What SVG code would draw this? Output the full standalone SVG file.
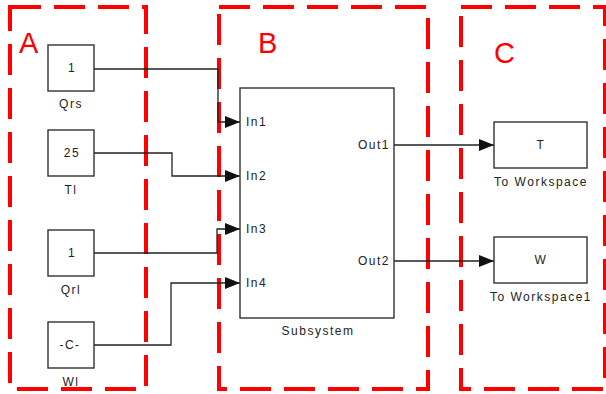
<svg xmlns="http://www.w3.org/2000/svg" width="606" height="394" viewBox="0 0 606 394">
<defs>
<style>
.region{fill:none;stroke:#ff0000;stroke-width:4;stroke-dasharray:31 13}
.rl{font-family:"Liberation Sans",Arial,sans-serif;font-size:29px;fill:#ff0000}
.blk{fill:#fff;stroke:#333;stroke-width:1.4}
.t{font-family:"Liberation Sans",Arial,sans-serif;font-size:12px;fill:#222;letter-spacing:1.5px}
.m{text-anchor:middle}
.e{text-anchor:end}
.wire{fill:none;stroke:#222;stroke-width:1.3;marker-end:url(#ah)}
</style>
<marker id="ah" markerUnits="userSpaceOnUse" markerWidth="15" markerHeight="12" refX="15" refY="6" orient="auto">
<path d="M0,0 L15,6 L0,12 Z" fill="#111"/>
</marker>
</defs>
<rect width="606" height="394" fill="#fff"/>
<g id="regions">
<rect class="region" x="10" y="7" width="136" height="382"/>
<rect class="region" x="219" y="7" width="209" height="382"/>
<rect class="region" x="461" y="7" width="144" height="382"/>
<text class="rl" x="19" y="53">A</text>
<text class="rl" x="258" y="53">B</text>
<text class="rl" x="494" y="63">C</text>
</g>
<g id="connectors">
<path class="wire" d="M94,69 H218 V122 H240"/>
<path class="wire" d="M94,153 H172 V176 H240"/>
<path class="wire" d="M94,253 H217 V229 H240"/>
<path class="wire" d="M94,345 H171 V283 H240"/>
<path class="wire" d="M394,145 H494"/>
<path class="wire" d="M394,261 H494"/>
</g>
<g id="Qrs">
<rect class="blk" x="48" y="45" width="46" height="46"/>
<text class="t m" x="72" y="72">1</text>
<text class="t m" x="71" y="108">Qrs</text>
</g>
<g id="Tl">
<rect class="blk" x="48" y="130" width="46" height="46"/>
<text class="t m" x="72" y="157">25</text>
<text class="t m" x="71" y="194">Tl</text>
</g>
<g id="Qrl">
<rect class="blk" x="48" y="230" width="46" height="46"/>
<text class="t m" x="72" y="257">1</text>
<text class="t m" x="71" y="294">Qrl</text>
</g>
<g id="Wl">
<rect class="blk" x="48" y="322" width="46" height="46"/>
<text class="t m" x="70" y="349">-C-</text>
<text class="t m" x="71" y="386">Wl</text>
</g>
<g id="Subsystem">
<rect class="blk" x="240" y="88" width="154" height="230"/>
<text class="t" x="246" y="126">In1</text>
<text class="t" x="246" y="180">In2</text>
<text class="t" x="246" y="233">In3</text>
<text class="t" x="246" y="287">In4</text>
<text class="t e" x="390" y="149">Out1</text>
<text class="t e" x="390" y="265">Out2</text>
<text class="t m" x="318" y="335">Subsystem</text>
</g>
<g id="ToWorkspace">
<rect class="blk" x="494" y="122" width="93" height="46"/>
<text class="t m" x="541" y="149">T</text>
<text class="t m" x="541" y="186">To Workspace</text>
</g>
<g id="ToWorkspace1">
<rect class="blk" x="494" y="237" width="93" height="46"/>
<text class="t m" x="541" y="264">W</text>
<text class="t m" x="541" y="301">To Workspace1</text>
</g>
</svg>
